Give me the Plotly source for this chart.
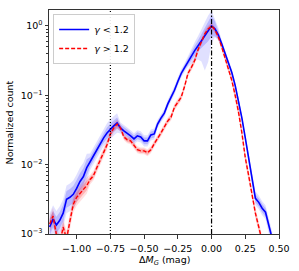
import numpy as np
import plotly.graph_objects as go

# ---- data ----
dmg = [round(-1.2 + 0.025 * i, 3) for i in range(67)]  # bin centres (mag)

blue_counts = [1.26e-3, 1.64e-3, 1.35e-3, 1.58e-3, 2.0e-3, 3.16e-3, 3.38e-3, 3.73e-3, 4.54e-3, 5.72e-3,
               6.74e-3, 9.06e-3, 1.10e-2, 1.34e-2, 1.69e-2, 2.06e-2, 2.43e-2, 2.86e-2, 3.27e-2, 3.61e-2,
               3.98e-2, 3.38e-2, 3.06e-2, 2.86e-2, 2.60e-2, 2.35e-2, 2.60e-2, 2.51e-2, 2.20e-2, 2.20e-2,
               2.68e-2, 2.77e-2, 3.85e-2, 4.69e-2, 5.53e-2, 7.44e-2, 9.36e-2, 0.118, 0.158, 0.206,
               0.251, 0.306, 0.373, 0.44, 0.518, 0.61, 0.72, 0.85, 1.0, 0.906,
               0.744, 0.553, 0.411, 0.296, 0.213, 0.139, 0.0848, 0.0469, 0.0243, 0.0126,
               6.52e-3, 3.27e-3, 2.86e-3, 2.35e-3, 2.06e-3, 1.26e-3, 8.5e-4]

red_counts = [1.39e-3, 1.81e-3, 9.7e-4, 7.2e-4, 1.26e-3, 8.5e-4, 1.53e-3, 2.68e-3, 3.38e-3, 3.85e-3,
              4.54e-3, 5.0e-3, 6.1e-3, 6.97e-3, 9.06e-3, 1.18e-2, 1.48e-2, 1.93e-2, 2.77e-2, 3.38e-2,
              3.85e-2, 3.38e-2, 2.51e-2, 2.28e-2, 2.20e-2, 1.87e-2, 1.64e-2, 1.58e-2, 1.58e-2, 1.48e-2,
              1.64e-2, 2.0e-2, 2.35e-2, 2.86e-2, 3.49e-2, 4.25e-2, 4.85e-2, 6.74e-2, 7.94e-2, 9.36e-2,
              0.134, 0.206, 0.251, 0.316, 0.454, 0.61, 0.769, 0.906, 1.0, 0.877,
              0.697, 0.50, 0.349, 0.243, 0.164, 0.10, 0.0572, 0.0286, 0.0126, 6.97e-3,
              3.73e-3, 2.0e-3, 1.26e-3, 7.9e-4, 6.0e-4, 4.0e-4, 3.0e-4]

# band half-widths in dex (inner / outer, lower / upper)
blue_in = ([0.12] * 5 + [0.12] * 7 + [0.07] * 5 + [0.08] * 4 + [0.05] * 11 +
           [0.035] * 9 + [0.05, 0.06, 0.07, 0.08] + [0.1, 0.13, 0.15, 0.15, 0.11, 0.06] + [0.03] * 9 + [0.06] * 7)
blue_out_up = ([0.2] * 5 + [0.2] * 7 + [0.12] * 5 + [0.14] * 4 + [0.08] * 11 +
               [0.06] * 9 + [0.08, 0.1, 0.12, 0.14] + [0.17, 0.2, 0.22, 0.22, 0.15, 0.1] + [0.05] * 9 + [0.1] * 7)
blue_out_dn = ([0.2] * 5 + [0.2] * 7 + [0.12] * 5 + [0.14] * 4 + [0.08] * 11 +
               [0.06] * 9 + [0.08, 0.12, 0.15, 0.2] + [0.3, 0.5, 0.45, 0.25, 0.12, 0.08] + [0.05] * 9 + [0.1] * 7)
red_in = [0.07] * 12 + [0.04] * 9 + [0.03] * 34 + [0.04] * 12
red_out = [0.12] * 12 + [0.07] * 9 + [0.05] * 34 + [0.08] * 12

x_ticks = [-1.0, -0.75, -0.5, -0.25, 0.0, 0.25, 0.5]
x_ticklabels = ["−1.00", "−0.75", "−0.50", "−0.25", "0.00", "0.25", "0.50"]
y_ticks = [1e-3, 1e-2, 1e-1, 1.0]
y_ticklabels = ["10<sup>−3</sup>", "10<sup>−2</sup>", "10<sup>−1</sup>", "10<sup>0</sup>"]
ref_lines = [-0.75, 0.0]

# ---- figure ----
BLUE = "#0000ff"
RED = "#ff0000"
FONT = "DejaVu Sans"

x = np.array(dmg)
b = np.array(blue_counts)
r = np.array(red_counts)


def band(fig, lo, hi, color):
    fig.add_trace(go.Scatter(x=x, y=lo, mode="lines", line=dict(width=0), showlegend=False,
                             hoverinfo="skip"))
    fig.add_trace(go.Scatter(x=x, y=hi, mode="lines", line=dict(width=0), fill="tonexty",
                             fillcolor=color, showlegend=False, hoverinfo="skip"))


fig = go.Figure()
band(fig, b / 10 ** np.array(blue_out_dn), b * 10 ** np.array(blue_out_up), "rgba(0,0,255,0.12)")
band(fig, b / 10 ** np.array(blue_in), b * 10 ** np.array(blue_in), "rgba(0,0,255,0.18)")
band(fig, r / 10 ** np.array(red_out), r * 10 ** np.array(red_out), "rgba(255,0,0,0.12)")
band(fig, r / 10 ** np.array(red_in), r * 10 ** np.array(red_in), "rgba(255,0,0,0.2)")

fig.add_trace(go.Scatter(x=x, y=b, mode="lines", line=dict(color=BLUE, width=1.6),
                         name="<i>γ</i> &lt; 1.2"))
fig.add_trace(go.Scatter(x=x, y=r, mode="lines", line=dict(color=RED, width=1.4, dash="4px,2px"),
                         name="<i>γ</i> &gt; 1.2"))

fig.add_shape(type="line", x0=ref_lines[0], x1=ref_lines[0], y0=0, y1=1, xref="x", yref="paper",
              line=dict(color="black", width=1.2, dash="1px,2px"))
fig.add_shape(type="line", x0=ref_lines[1], x1=ref_lines[1], y0=0, y1=1, xref="x", yref="paper",
              line=dict(color="black", width=1.2, dash="5px,2px,1.5px,2px"))

minor_vals = [m * 10 ** e for e in range(-3, 1) for m in range(2, 10)]

fig.add_annotation(text="Δ<i>M</i><sub><i>G</i></sub> (mag)", x=0.5, y=-0.118, xref="paper", yref="paper",
                   xanchor="center", yanchor="middle", showarrow=False, font=dict(size=9.5, family=FONT))
fig.add_annotation(text="Normalized count", x=-0.172, y=0.5, xref="paper", yref="paper",
                   xanchor="center", yanchor="middle", textangle=-90, showarrow=False,
                   font=dict(size=9.5, family=FONT))

fig.update_layout(
    width=299, height=271,
    margin=dict(l=49, r=17, t=9, b=37),
    paper_bgcolor="white", plot_bgcolor="white",
    font=dict(family=FONT, size=9.5, color="black"),
    showlegend=True,
    legend=dict(x=0.018, y=0.982, xanchor="left", yanchor="top", bgcolor="rgba(255,255,255,0.9)",
                bordercolor="#cccccc", borderwidth=1, font=dict(size=9.5, family=FONT),
                traceorder="normal", tracegroupgap=0, itemwidth=30),
    xaxis=dict(range=[-1.205, 0.5], tickvals=x_ticks, ticktext=x_ticklabels,
               ticks="outside", ticklen=3.5, tickcolor="#333", showline=True, linecolor="#333",
               linewidth=1, mirror=True, showgrid=False, zeroline=False, ticklabelstandoff=2),
    yaxis=dict(type="log", range=[-3, 0.229], tickvals=y_ticks, ticktext=y_ticklabels,
               ticks="outside", ticklen=3.5, tickcolor="#333", showline=True, linecolor="#333",
               linewidth=1, mirror=True, showgrid=False, zeroline=False,
               minor=dict(tickvals=minor_vals, ticks="outside", ticklen=2, tickcolor="#333", showgrid=False)),
)

fig.write_html("out.html", config={"displayModeBar": False},
               post_script="document.body.style.margin='0';document.body.style.overflow='hidden';")
